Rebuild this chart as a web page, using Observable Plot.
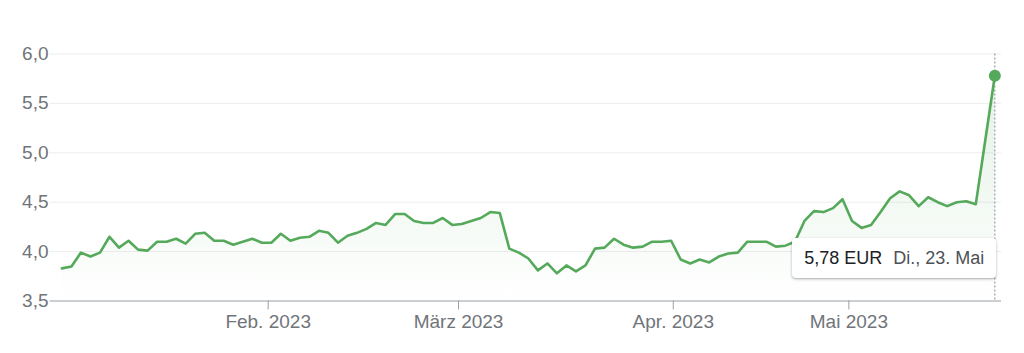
<!DOCTYPE html>
<html lang="de">
<head>
<meta charset="utf-8">
<script src="https://cdn.jsdelivr.net/npm/d3@7"></script>
<script src="https://cdn.jsdelivr.net/npm/@observablehq/plot@0.6"></script>
<style>
  html, body { margin: 0; padding: 0; background: #fff; }
  #wrap { position: relative; width: 1024px; height: 353px; }
  #tip {
    position: absolute;
    box-sizing: border-box;
    height: 40px;
    line-height: 40px;
    padding: 0 12px;
    background: #fff;
    border-radius: 4px;
    box-shadow: 0 1px 3px rgba(60, 64, 67, 0.35), 0 1px 1px rgba(60, 64, 67, 0.12);
    font-family: Arial, "Liberation Sans", sans-serif;
    font-size: 18px;
    white-space: nowrap;
  }
  #tip .val { color: #202124; margin-right: 11px; }
  #tip .date { color: #4d5156; }
</style>
</head>
<body>
<div id="wrap"></div>
<script>
// Trading window: Xetra sessions from 2 Jan to 23 May 2023
const firstDay = "2023-01-02";
const lastDay = "2023-05-23";
const holidays = ["2023-04-07", "2023-04-10", "2023-05-01"];

// Closing prices in EUR, one per session
const prices = [
  3.83, 3.85, 3.99, 3.95, 3.99, 4.15, 4.04, 4.11, 4.02, 4.01,
  4.10, 4.10, 4.13, 4.08, 4.18, 4.19, 4.11, 4.11, 4.07, 4.10,
  4.13, 4.09, 4.09, 4.18, 4.11, 4.14, 4.15, 4.21, 4.19, 4.09,
  4.16, 4.19, 4.23, 4.29, 4.27, 4.38, 4.38, 4.31, 4.29, 4.29,
  4.34, 4.27, 4.28, 4.31, 4.34, 4.40, 4.39, 4.03, 3.99, 3.93,
  3.81, 3.88, 3.78, 3.86, 3.80, 3.86, 4.03, 4.04, 4.13, 4.07,
  4.04, 4.05, 4.10, 4.10, 4.11, 3.92, 3.88, 3.92, 3.89, 3.95,
  3.98, 3.99, 4.10, 4.10, 4.10, 4.05, 4.06, 4.10, 4.31, 4.41,
  4.40, 4.44, 4.53, 4.31, 4.24, 4.27, 4.40, 4.54, 4.61, 4.57,
  4.46, 4.55, 4.50, 4.46, 4.50, 4.51, 4.48, 5.13, 5.78
];

// Axis ticks
const monthStarts = ["2023-02-01", "2023-03-01", "2023-04-01", "2023-05-01"];
const monthLabels = ["Feb. 2023", "März 2023", "Apr. 2023", "Mai 2023"];
const yTicks = [3.5, 4.0, 4.5, 5.0, 5.5, 6.0];

const weekdaysDe = ["So.", "Mo.", "Di.", "Mi.", "Do.", "Fr.", "Sa."];
const monthsDe = ["Jan.", "Feb.", "März", "Apr.", "Mai", "Juni", "Juli", "Aug.", "Sept.", "Okt.", "Nov.", "Dez."];

// Build the session calendar (weekdays minus exchange holidays)
const sessions = [];
for (let d = new Date(firstDay + "T00:00:00Z"); d <= new Date(lastDay + "T00:00:00Z"); d.setUTCDate(d.getUTCDate() + 1)) {
  const wd = d.getUTCDay();
  const iso = d.toISOString().slice(0, 10);
  if (wd !== 0 && wd !== 6 && !holidays.includes(iso)) sessions.push(iso);
}

const rows = sessions.map((date, i) => ({i, date, v: prices[i]}));
const last = rows[rows.length - 1];

// Sessions sit evenly spaced; a calendar instant maps to a fractional session index
const stamps = sessions.map(s => new Date(s + "T08:00:00Z").getTime());
function sessionPos(iso) {
  const t = new Date(iso + "T00:00:00Z").getTime();
  const k = d3.bisectLeft(stamps, t);
  return k - 1 + (t - stamps[k - 1]) / (stamps[k] - stamps[k - 1]);
}
const tickPos = monthStarts.map(sessionPos);
const labelAt = new Map(tickPos.map((p, k) => [p, monthLabels[k]]));

const green = "#55a95a";
const comma = (v, n) => v.toFixed(n).replace(".", ",");

const chart = Plot.plot({
  width: 1024,
  height: 353,
  marginLeft: 49.5,
  marginRight: 23,
  marginTop: 53.5,
  marginBottom: 52.5,
  style: {
    fontFamily: "Arial, 'Liberation Sans', sans-serif",
    fontSize: "19px",
    background: "#fff",
    overflow: "visible"
  },
  x: {type: "linear", domain: [-1.25, 98.7], label: null},
  y: {domain: [3.5, 6.0], label: null},
  marks: [
    Plot.gridY(yTicks.slice(1), {stroke: "#ededed", strokeOpacity: 1}),
    Plot.areaY(rows, {x: "i", y1: 3.5, y2: "v", fill: "url(#fade)"}),
    Plot.ruleX([last], {x: "i", y1: 6.0, y2: 3.5, stroke: "#80868b", strokeDasharray: "2,2"}),
    Plot.ruleY([3.5], {stroke: "#9aa0a6", strokeWidth: 1.2}),
    Plot.axisX(tickPos, {
      label: null,
      tickSize: 9, tickPadding: 4,
      stroke: "#9aa0a6", fill: "#70757a",
      tickFormat: d => labelAt.get(d)
    }),
    Plot.axisY(yTicks, {
      label: null,
      tickSize: 0, tickPadding: 1.5,
      fill: "#70757a",
      tickFormat: d => comma(d, 1)
    }),
    Plot.lineY(rows, {x: "i", y: "v", stroke: green, strokeWidth: 2.6, strokeLinejoin: "round"}),
    Plot.dot([last], {x: "i", y: "v", r: 6, fill: green, stroke: "none"})
  ]
});

// Soft green fade under the price line
const ys = chart.scale("y");
const defs = d3.select(chart).insert("defs", ":first-child");
const grad = defs.append("linearGradient")
  .attr("id", "fade")
  .attr("gradientUnits", "userSpaceOnUse")
  .attr("x1", 0).attr("x2", 0)
  .attr("y1", ys.apply(6.0)).attr("y2", ys.apply(3.5));
grad.append("stop").attr("offset", "0").attr("stop-color", green).attr("stop-opacity", 0.18);
grad.append("stop").attr("offset", "1").attr("stop-color", green).attr("stop-opacity", 0);

const wrap = document.getElementById("wrap");
wrap.appendChild(chart);

// Hover card for the latest session
const xs = chart.scale("x");
const d = new Date(last.date + "T00:00:00Z");
const tip = document.createElement("div");
tip.id = "tip";
tip.innerHTML = `<span class="val">${comma(last.v, 2)} EUR</span><span class="date">${weekdaysDe[d.getUTCDay()]}, ${d.getUTCDate()}. ${monthsDe[d.getUTCMonth()]}</span>`;
tip.style.right = (1024 - (xs.apply(last.i) + 2)) + "px";
tip.style.top = (ys.apply(3.5) - 62.5) + "px";
wrap.appendChild(tip);
</script>
</body>
</html>
